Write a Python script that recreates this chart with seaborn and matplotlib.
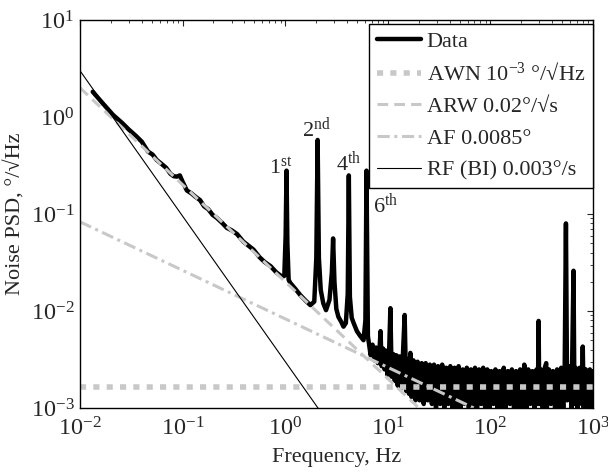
import matplotlib
matplotlib.use("Agg")
import matplotlib.pyplot as plt
import seaborn as sns

sns.set_style("white")
plt.rcParams["font.family"] = ["Liberation Serif", "DejaVu Serif"]
plt.rcParams["mathtext.fontset"] = "custom"
plt.rcParams["mathtext.rm"] = "Liberation Serif"
plt.rcParams["mathtext.it"] = "Liberation Serif:italic"
plt.rcParams["mathtext.bf"] = "Liberation Serif:bold"

freq_hz = [
    0.0133, 0.017, 0.021, 0.026, 0.030, 0.035, 0.040, 0.046, 0.051, 0.056,
    0.062, 0.069, 0.076, 0.082, 0.088, 0.094, 0.100, 0.110, 0.122, 0.133,
    0.148, 0.162, 0.178, 0.196, 0.216, 0.24, 0.27, 0.30, 0.34, 0.39,
    0.44, 0.49, 0.56, 0.63, 0.72, 0.82, 0.93, 0.98, 1.01, 1.03,
    1.05, 1.08, 1.12, 1.25, 1.41, 1.58, 1.76, 1.92, 2.01, 2.07,
    2.13, 2.22, 2.35, 2.5, 2.7, 2.85, 2.93, 3.02, 3.15, 3.3,
    3.5, 3.7, 3.9, 4.07, 4.17, 4.27, 4.45, 4.65, 5.0, 5.4,
    5.8, 6.05, 6.2, 6.4, 6.8, 7.1, 7.4, 7.7, 8.0, 8.3,
    8.5, 8.7, 9.0, 9.3, 9.6, 9.9, 10.3, 10.6, 10.9, 11.3,
    11.7, 12.1, 12.5, 13.0, 13.5, 14.0, 14.6, 15.1, 15.6, 16.1,
    16.6, 17.0, 17.8, 18.6, 19.5, 20.4, 21.4, 22.4, 23.4, 24.5,
    25.7, 26.9, 28.2, 29.5, 30.9, 32.4, 33.9, 35.5, 37.2, 38.9,
    40.7, 42.7, 44.7, 46.8, 49.0, 51.3, 53.7, 56.2, 58.9, 61.7,
    64.6, 67.6, 70.8, 74.1, 77.6, 81.3, 85.1, 89.1, 93.3, 97.7,
    102, 107, 112, 117, 123, 129, 135, 141, 148, 155,
    162, 170, 178, 186, 195, 204, 214, 224, 234, 245,
    257, 269, 282, 290, 295, 300, 309, 324, 339, 350,
    355, 372, 389, 407, 427, 447, 468, 490, 513, 530,
    545, 560, 589, 617, 646, 660, 676, 708, 741, 776,
    795, 813, 851, 891, 933, 977, 1000,
]
psd = [
    1.82, 1.35, 1.05, 0.86, 0.74, 0.64, 0.557, 0.44, 0.41, 0.36,
    0.33, 0.30, 0.26, 0.245, 0.243, 0.25, 0.215, 0.175, 0.163, 0.151,
    0.139, 0.12, 0.112, 0.098, 0.091, 0.082, 0.072, 0.068, 0.062, 0.052,
    0.047, 0.043, 0.036, 0.032, 0.029, 0.025, 0.0226, 0.023, 0.06, 0.28,
    0.05, 0.021, 0.0195, 0.017, 0.0145, 0.0128, 0.0115, 0.0125, 0.035, 0.58,
    0.035, 0.0165, 0.012, 0.0102, 0.013, 0.025, 0.056, 0.02, 0.0105, 0.0087,
    0.0078, 0.0069, 0.0075, 0.015, 0.25, 0.014, 0.0085, 0.0075, 0.0062, 0.0055,
    0.005, 0.008, 0.28, 0.0055, 0.0035, 0.0045, 0.0031, 0.0042, 0.0029, 0.0040,
    0.0062, 0.0027, 0.0041, 0.0025, 0.0039, 0.0022, 0.0038, 0.0107, 0.0021, 0.0036,
    0.0019, 0.0035, 0.0017, 0.0034, 0.0016, 0.0033, 0.0091, 0.0015, 0.0032, 0.0014,
    0.0037, 0.0013, 0.0031, 0.0012, 0.0030, 0.0012, 0.0029, 0.0011, 0.0029, 0.0012,
    0.0028, 0.0011, 0.0028, 0.0010, 0.0027, 0.0011, 0.0028, 0.0010, 0.0026, 0.0011,
    0.0027, 0.0010, 0.0026, 0.00095, 0.0027, 0.0010, 0.0025, 0.0011, 0.0026, 0.0010,
    0.0025, 0.00095, 0.0026, 0.0010, 0.0025, 0.0011, 0.0026, 0.00095, 0.0025, 0.0010,
    0.0024, 0.0011, 0.0025, 0.0010, 0.0024, 0.00095, 0.0026, 0.0010, 0.0024, 0.0011,
    0.0025, 0.0010, 0.0024, 0.00095, 0.0025, 0.0010, 0.0028, 0.0010, 0.0025, 0.0011,
    0.0024, 0.0010, 0.0025, 0.0011, 0.0079, 0.0011, 0.0025, 0.0010, 0.0026, 0.0029,
    0.0010, 0.0025, 0.0011, 0.0024, 0.0010, 0.0025, 0.00095, 0.0026, 0.0010, 0.0026,
    0.080, 0.0012, 0.0027, 0.0010, 0.026, 0.0011, 0.0026, 0.0010, 0.0026, 0.0011,
    0.0043, 0.0010, 0.0025, 0.0010, 0.0025, 0.0010, 0.0024,
]

# noise model lines (end points)
awn_f = [0.01, 1000]
awn_psd = [0.00166, 0.00166]
arw_f = [0.01, 30]
arw_psd = [2.0, 0.00067]
af_f = [0.01, 100]
af_psd = [0.083, 0.00083]
rf_f = [0.01, 3]
rf_psd = [3.0, 0.00058]

# harmonic labels
peak_text = ["1$^{\\rm st}$", "2$^{\\rm nd}$", "4$^{\\rm th}$", "6$^{\\rm th}$"]
peak_f = [0.90, 2.02, 4.14, 9.5]
peak_y = [0.258, 0.62, 0.277, 0.102]

grey = "#c8c8c8"
fig = plt.figure(figsize=(6.08, 4.72), dpi=100)
ax = fig.add_axes([0.1316, 0.1356, 0.8437, 0.822])

sns.lineplot(x=freq_hz, y=psd, ax=ax, color="black", lw=3.2, label="Data",
             estimator=None, sort=False)
sns.lineplot(x=awn_f, y=awn_psd, ax=ax, color=grey, lw=4, linestyle=(0, (1.1, 1.3)),
             label="AWN 10$^{-3}$ °/√Hz", estimator=None, sort=False)
sns.lineplot(x=arw_f, y=arw_psd, ax=ax, color=grey, lw=2.2, linestyle=(0, (3.5, 2)),
             label="ARW 0.02°/√s", estimator=None, sort=False)
sns.lineplot(x=af_f, y=af_psd, ax=ax, color=grey, lw=2.2, linestyle=(0, (4, 1.5, 1, 1.5)),
             label="AF 0.0085°", estimator=None, sort=False)
sns.lineplot(x=rf_f, y=rf_psd, ax=ax, color="black", lw=0.8,
             label="RF (BI) 0.003°/s", estimator=None, sort=False)

for t, x, y in zip(peak_text, peak_f, peak_y):
    ax.text(x, y, t, ha="center", va="baseline", fontsize=16)

ax.set(xscale="log", yscale="log")
ax.set_xlim(1e-2, 1e3)
ax.set_ylim(1e-3, 1e1)
ax.set_xlabel("Frequency, Hz", fontsize=16, labelpad=5)
ax.set_ylabel("Noise PSD, °/√Hz", fontsize=16)
ax.tick_params(which="both", direction="in", top=True, right=True, labelsize=17.5)
ax.tick_params(axis="x", pad=7)
ax.tick_params(axis="y", pad=4)
ax.tick_params(which="major", length=4, width=0.8)
ax.tick_params(which="minor", length=2.5, width=0.6)
for s in ax.spines.values():
    s.set_color("black")
    s.set_linewidth(1)

leg = ax.legend(loc="upper right", bbox_to_anchor=(1.0, 0.99), borderaxespad=0.0,
                fontsize=16, handlelength=2.0, handletextpad=0.25, labelspacing=0.5,
                fancybox=False, framealpha=1, edgecolor="black", borderpad=0.35)
leg.get_frame().set_linewidth(1)

plt.savefig("out.png", dpi=100)
